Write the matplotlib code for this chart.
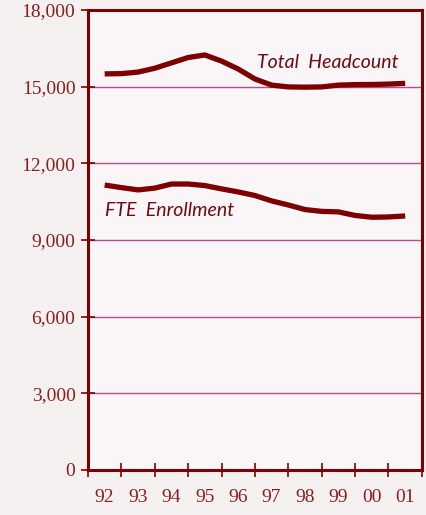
import numpy as np
from matplotlib import pyplot as plt
from matplotlib.ticker import FuncFormatter

# half-year readings, 1992 .. 2001
years = [92.0, 92.5, 93.0, 93.5, 94.0, 94.5, 95.0, 95.5, 96.0, 96.5,
         97.0, 97.5, 98.0, 98.5, 99.0, 99.5, 100.0, 100.5, 101.0]
headcount = [15500, 15510, 15570, 15720, 15930, 16140, 16240, 16000, 15690, 15300,
             15060, 14990, 14980, 14990, 15060, 15080, 15085, 15100, 15130]
fte = [11150, 11050, 10960, 11030, 11190, 11190, 11130, 11000, 10880, 10740,
       10530, 10370, 10190, 10120, 10100, 9960, 9890, 9900, 9940]
year_labels = ['92', '93', '94', '95', '96', '97', '98', '99', '00', '01']

dark = '#7c0000'
txt = '#8b1e22'
grid = '#b2508c'

fig = plt.figure(figsize=(4.27, 5.15), dpi=100, facecolor='#f4f1f0')
ax = fig.add_axes([0.206, 0.0874, 0.782, 0.8932])
ax.set_facecolor('#faf5f7')

for y in [3000, 6000, 9000, 12000, 15000]:
    ax.axhline(y, color=grid, lw=1.0, zorder=1)

ax.plot(years, headcount, color=dark, lw=3.8, solid_capstyle='butt', zorder=3)
ax.plot(years, fte, color=dark, lw=3.8, solid_capstyle='butt', zorder=3)

ax.text(100.8, 15950, 'Total  Headcount', color='#6e0a12', fontsize=14,
        family='Lato', style='italic', ha='right', va='center')
ax.text(92.0, 10150, 'FTE  Enrollment', color='#6e0a12', fontsize=14,
        family='Lato', style='italic', ha='left', va='center')

ax.set_xlim(91.5, 101.5)
ax.set_ylim(0, 18000)

centers = np.arange(92, 102)
ax.set_xticks(np.arange(91.5, 102, 1.0))
ax.set_xticklabels([])
ax.set_xticks(centers, minor=True)
ax.set_xticklabels(year_labels, minor=True)
ax.tick_params(axis='x', which='major', direction='inout', length=10, width=1.2, color=dark)
ax.tick_params(axis='x', which='minor', length=0, pad=14, labelsize=14, labelcolor=txt)

ax.set_yticks(np.arange(0, 18001, 3000))
ax.yaxis.set_major_formatter(FuncFormatter(lambda v, p: f'{int(v):,}'))
ax.tick_params(axis='y', direction='inout', length=10, width=1.2, color=dark,
               labelsize=14, labelcolor=txt, pad=4)

for lab in ax.get_xticklabels(minor=True) + ax.get_yticklabels():
    lab.set_family('Liberation Serif')

for s in ax.spines.values():
    s.set_color(dark)
    s.set_linewidth(2.2)

fig.savefig('out.png', dpi=100, facecolor=fig.get_facecolor())
